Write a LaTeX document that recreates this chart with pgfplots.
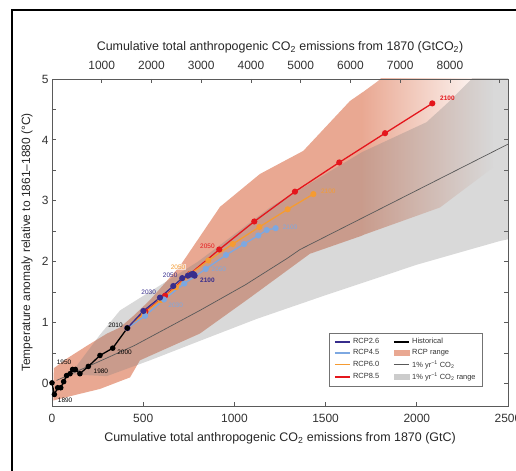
\documentclass[border=0pt]{standalone}
\usepackage{fontspec}
\setmainfont{Liberation Sans}
\usepackage{pgfplots}
\pgfplotsset{compat=1.18}

\definecolor{rcp26}{RGB}{55,45,140}
\definecolor{rcp45}{RGB}{125,168,225}
\definecolor{rcp60}{RGB}{245,155,50}
\definecolor{rcp85}{RGB}{228,22,28}
\definecolor{rcprange}{RGB}{233,168,146}
\definecolor{axgray}{RGB}{90,90,90}

\begin{document}
\begin{tikzpicture}
\useasboundingbox (0,0) rectangle (516bp,471bp);
\draw[line width=1.3bp] (12bp,-5bp) -- (12bp,461bp) -- (530bp,461bp);

\begin{axis}[
  at={(52bp,65bp)}, anchor=south west,
  width=456bp, height=327bp, scale only axis,
  xmin=0, xmax=2500, ymin=-0.37, ymax=5,
  axis line style={axgray, line width=0.9bp},
  tick style={axgray, line width=0.8bp},
  tick align=inside,
  major tick length=4bp, minor tick length=4bp,
  xtick={0,500,...,2500}, xtick pos=left,
  ytick={0,1,2,3,4,5}, minor ytick={0.5,1.5,2.5,3.5,4.5},
  tick label style={font=\fontsize{12}{14}\selectfont, text=black!80},
  xticklabel style={yshift=-5bp, /pgf/number format/1000 sep={}},
  /pgf/number format/assume math mode=true,
  scaled x ticks=false,
  label style={font=\fontsize{12.5}{14}\selectfont, text=black!85},
  xlabel={Cumulative total anthropogenic CO\textsubscript{2} emissions from 1870 (GtC)},
  ylabel={Temperature anomaly relative to 1861–1880 (°C)},
  xlabel style={at={(axis description cs:0.5,0)}, anchor=center, yshift=-32bp},
  ylabel style={at={(axis description cs:-0.055,0.5)}, anchor=center, font=\fontsize{12}{14}\selectfont},
  legend style={at={(0.945,0.223)}, anchor=north east, draw=black!55, line width=0.6bp,
    font=\fontsize{7.5}{8.5}\selectfont, text=black!80, inner xsep=5bp, inner ysep=3bp,
    /tikz/every even column/.append style={column sep=12bp}, row sep=0.3bp},
  legend columns=2, legend cell align=left,
]
% RCP range: solid part
\addplot[fill=rcprange, draw=none, forget plot] coordinates {
 (10,0.25) (82,0.41) (192,0.62) (302,0.82) (373,0.92) (450,1.12) (537,1.37) (702,1.93)
 (921,2.90) (1140,3.44) (1378,3.82) (1634,4.64) (1702,4.78)
 (1702,2.43) (1414,2.13) (1086,1.41) (811,0.82) (482,0.38) (428,0.10)
 (263,-0.09) (153,-0.17) (7,-0.28) (10,0.25)};
% RCP range: fading part
\addplot[shade, left color=rcprange, right color=white, draw=none, forget plot] coordinates {
 (1698,4.77) (1789,4.97) (1900,5.3) (2420,5.3)
 (2420,3.55) (2127,2.89) (1698,2.43) (1698,4.77)};
% 1% CO2 range
\addplot[fill=black!50, fill opacity=0.3, draw=none, forget plot] coordinates {
 (100,0.15) (263,0.80) (373,1.20) (480,1.40) (800,2.0) (1200,2.9) (1700,3.8) (2053,4.29)
 (2163,4.59) (2291,4.97) (2330,5.1) (2520,5.1) (2520,2.38) (2456,2.34) (2000,1.95)
 (1500,1.45) (1122,1.06) (811,0.70) (537,0.38) (300,0.12) (100,0.15)};
% 1% CO2 line
\addplot[black!65, line width=0.7bp, forget plot] coordinates {
 (25,0.05) (250,0.35) (450,0.62) (811,1.20) (1060,1.62) (1287,2.05) (1360,2.2) (2500,3.93)};
% RCP8.5
\addplot[color=rcp85, line width=1.3bp, mark=*, mark size=2.4pt, forget plot] coordinates {
 (413,0.91) (512,1.18) (620,1.44) (757,1.80) (917,2.20) (1109,2.66) (1332,3.15) (1575,3.63) (1826,4.11) (2085,4.60)};
% RCP6.0
\addplot[color=rcp60, line width=1.3bp, mark=*, mark size=2.4pt, forget plot] coordinates {
 (413,0.91) (505,1.15) (595,1.37) (680,1.58) (760,1.80) (857,2.02) (991,2.29) (1137,2.57) (1292,2.86) (1433,3.11)};
% RCP4.5
\addplot[color=rcp45, line width=1.3bp, mark=*, mark size=2.4pt, forget plot] coordinates {
 (413,0.91) (510,1.11) (614,1.38) (725,1.64) (843,1.88) (954,2.11) (1053,2.29) (1131,2.43) (1177,2.52) (1226,2.55)};
% RCP2.6
\addplot[color=rcp26, line width=1.3bp, mark=*, mark size=2.4pt, forget plot] coordinates {
 (413,0.91) (501,1.19) (592,1.41) (665,1.60) (714,1.73) (745,1.77) (762,1.79) (772,1.80) (778,1.79) (782,1.77)};
% Historical
\addplot[color=black, line width=1.3bp, mark=*, mark size=2.1pt, forget plot] coordinates {
 (0,0.01) (13,-0.18) (31,-0.07) (48,-0.07) (64,0.03) (80,0.13) (99,0.16) (113,0.23) (128,0.23)
 (153,0.16) (199,0.28) (263,0.46) (333,0.58) (413,0.91)};

% year labels
\begin{scope}[every node/.style={font=\fontsize{6.5}{7}\selectfont, inner sep=0.5bp}]
\node[black] at (axis cs:72,-0.27) {1890};
\node[black] at (axis cs:66,0.34) {1950};
\node[black] at (axis cs:268,0.20) {1980};
\node[black] at (axis cs:398,0.52) {2000};
\node[black] at (axis cs:348,0.95) {2010};
\node[rcp26] at (axis cs:530,1.50) {2030};
\node[rcp26] at (axis cs:648,1.77) {2050};
\node[rcp26, font=\fontsize{6.5}{7}\selectfont\bfseries] at (axis cs:852,1.70) {2100};
\node[rcp45] at (axis cs:678,1.29) {2030};
\node[rcp45] at (axis cs:915,1.87) {2050};
\node[rcp45] at (axis cs:1305,2.57) {2100};
\node[rcp60, fill=white, fill opacity=0.6, text opacity=1] at (axis cs:691,1.91) {2050};
\node[rcp60] at (axis cs:1515,3.15) {2100};
\node[rcp85] at (axis cs:852,2.25) {2050};
\node[rcp85, font=\fontsize{6.5}{7}\selectfont\bfseries] at (axis cs:2168,4.69) {2100};
\end{scope}

% legend
\addlegendimage{legend image code/.code={\draw[color={rgb,255:red,55;green,45;blue,140}, line width=1.4bp] (0cm,0cm) -- (0.55cm,0cm);}}
\addlegendentry{RCP2.6}
\addlegendimage{legend image code/.code={\draw[black, line width=1.4bp] (0cm,0cm) -- (0.55cm,0cm);}}
\addlegendentry{Historical}
\addlegendimage{legend image code/.code={\draw[color={rgb,255:red,125;green,168;blue,225}, line width=1.4bp] (0cm,0cm) -- (0.55cm,0cm);}}
\addlegendentry{RCP4.5}
\addlegendimage{legend image code/.code={\fill[rcprange] (0cm,-0.09cm) rectangle (0.55cm,0.09cm);}}
\addlegendentry{RCP range}
\addlegendimage{legend image code/.code={\draw[color={rgb,255:red,245;green,155;blue,50}, line width=1.4bp] (0cm,0cm) -- (0.55cm,0cm);}}
\addlegendentry{RCP6.0}
\addlegendimage{legend image code/.code={\draw[black!65, line width=1.4bp] (0cm,0cm) -- (0.55cm,0cm);}}
\addlegendentry{1\% yr\textsuperscript{−1} CO\textsubscript{2}}
\addlegendimage{legend image code/.code={\draw[color={rgb,255:red,228;green,22;blue,28}, line width=1.4bp] (0cm,0cm) -- (0.55cm,0cm);}}
\addlegendentry{RCP8.5}
\addlegendimage{legend image code/.code={\fill[black!20] (0cm,-0.09cm) rectangle (0.55cm,0.09cm);}}
\addlegendentry{1\% yr\textsuperscript{−1} CO\textsubscript{2} range}
\end{axis}

\begin{axis}[
  at={(52bp,65bp)}, anchor=south west,
  width=456bp, height=327bp, scale only axis,
  xmin=0, xmax=9166.7, ymin=0, ymax=1,
  axis x line*=top, axis y line=none,
  axis line style={axgray, line width=0.9bp},
  tick style={axgray, line width=0.8bp},
  tick align=inside, major tick length=4bp,
  xtick={1000,2000,...,9000},
  xticklabels={1000,2000,3000,4000,5000,6000,7000,8000,{}},
  tick label style={font=\fontsize{12}{14}\selectfont, text=black!80},
  xticklabel style={yshift=6bp},
  /pgf/number format/assume math mode=true,
  label style={font=\fontsize{12.5}{14}\selectfont, text=black!85},
  xlabel={Cumulative total anthropogenic CO\textsubscript{2} emissions from 1870 (GtCO\textsubscript{2})},
  xlabel style={at={(axis description cs:0.5,1)}, anchor=center, yshift=32bp},
]
\end{axis}
\end{tikzpicture}
\end{document}
